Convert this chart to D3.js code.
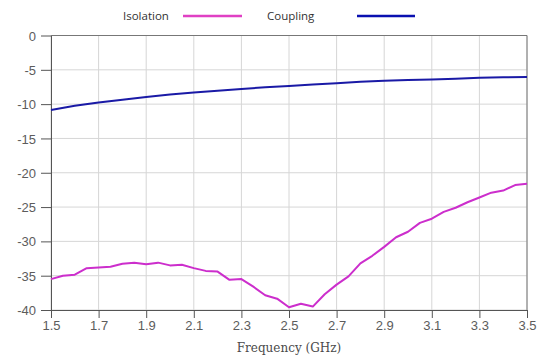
<!DOCTYPE html>
<html>
<head>
<meta charset="utf-8">
<script src="https://cdn.jsdelivr.net/npm/d3@7"></script>
<style>
  html, body { margin: 0; padding: 0; background: #fff; }
  svg { display: block; }
</style>
</head>
<body>
<svg id="chart" width="547" height="358"></svg>
<script>
// ---- data ----
const isoFreq = [1.5,1.55,1.6,1.65,1.7,1.75,1.8,1.85,1.9,1.95,2.0,2.05,2.1,2.15,2.2,2.25,2.3,2.35,2.4,2.45,2.5,2.55,2.6,2.65,2.7,2.75,2.8,2.85,2.9,2.95,3.0,3.05,3.1,3.15,3.2,3.25,3.3,3.35,3.4,3.45,3.5];
const isolation = [-35.5,-35.0,-34.85,-33.9,-33.8,-33.7,-33.25,-33.1,-33.35,-33.1,-33.5,-33.4,-33.9,-34.3,-34.4,-35.6,-35.5,-36.6,-37.85,-38.35,-39.6,-39.1,-39.5,-37.7,-36.3,-35.1,-33.2,-32.1,-30.8,-29.4,-28.6,-27.3,-26.7,-25.7,-25.1,-24.3,-23.6,-22.9,-22.6,-21.8,-21.6];
const coupFreq = [1.5,1.6,1.7,1.8,1.9,2.0,2.1,2.2,2.3,2.4,2.5,2.6,2.7,2.8,2.9,3.0,3.1,3.2,3.3,3.4,3.5];
const coupling = [-10.85,-10.25,-9.75,-9.35,-8.95,-8.6,-8.3,-8.05,-7.8,-7.55,-7.35,-7.15,-6.95,-6.75,-6.6,-6.5,-6.4,-6.3,-6.15,-6.1,-6.05];
const xTicks = [1.5,1.7,1.9,2.1,2.3,2.5,2.7,2.9,3.1,3.3,3.5];
const yTicks = [0,-5,-10,-15,-20,-25,-30,-35,-40];
const seriesNames = ["Isolation","Coupling"];
const xTitle = "Frequency (GHz)";

// ---- layout ----
const svg = d3.select("#chart");
const m = {left: 51, right: 20, top: 35.5, bottom: 48};
const W = 547, H = 358;
const x = d3.scaleLinear().domain([1.5, 3.5]).range([m.left, W - m.right]);
const y = d3.scaleLinear().domain([-40, 0]).range([H - m.bottom, m.top]);

const tickFont = "'Liberation Sans', Arial, sans-serif";

// grid
const g = svg.append("g");
g.selectAll(".vg").data(xTicks).enter().append("line")
  .attr("x1", d => x(d)).attr("x2", d => x(d))
  .attr("y1", y(0)).attr("y2", y(-40))
  .attr("stroke", "#d6d6d6").attr("stroke-width", 1);
g.selectAll(".hg").data(yTicks).enter().append("line")
  .attr("x1", x(1.5)).attr("x2", x(3.5))
  .attr("y1", d => y(d)).attr("y2", d => y(d))
  .attr("stroke", "#d6d6d6").attr("stroke-width", 1);

// frame top/right
svg.append("line").attr("x1", x(1.5)).attr("x2", x(3.5)).attr("y1", y(0)).attr("y2", y(0))
  .attr("stroke", "#777").attr("stroke-width", 1);
svg.append("line").attr("x1", x(3.5)).attr("x2", x(3.5)).attr("y1", y(0)).attr("y2", y(-40))
  .attr("stroke", "#777").attr("stroke-width", 1);

// axes
const xAxis = svg.append("g").attr("transform", `translate(0,${y(-40)})`)
  .call(d3.axisBottom(x).tickValues(xTicks).tickFormat(d3.format(".1f")).tickSizeInner(8).tickSizeOuter(0).tickPadding(3));
const yAxis = svg.append("g").attr("transform", `translate(${x(1.5)},0)`)
  .call(d3.axisLeft(y).tickValues(yTicks).tickFormat(d => String(d)).tickSizeInner(10).tickSizeOuter(0).tickPadding(5));
[xAxis, yAxis].forEach(a => {
  a.select(".domain").attr("stroke", "#555");
  a.selectAll(".tick line").attr("stroke", "#555");
  a.selectAll(".tick text").attr("fill", "#5c5c5c").style("font-family", tickFont).style("font-size", "13px");
});
yAxis.selectAll(".tick text").attr("dy", "0.35em");

// axis title
svg.append("text").attr("x", x(2.5)).attr("y", 352)
  .attr("text-anchor", "middle").attr("fill", "#4a4a4a")
  .style("font-family", "'DejaVu Serif', 'Liberation Serif', serif").style("font-size", "12px")
  .text(xTitle);

// lines
const line = d3.line().x(d => x(d[0])).y(d => y(d[1]));
svg.append("path").datum(isoFreq.map((f, i) => [f, isolation[i]]))
  .attr("d", line).attr("fill", "none").attr("stroke", "#cc2ecc").attr("stroke-width", 2)
  .attr("stroke-linejoin", "round");
svg.append("path").datum(coupFreq.map((f, i) => [f, coupling[i]]))
  .attr("d", line).attr("fill", "none").attr("stroke", "#1a1aa6").attr("stroke-width", 2)
  .attr("stroke-linejoin", "round");

// legend
const legFont = "'Open Sans', 'Noto Sans', sans-serif";
const legend = [
  {name: seriesNames[0], tx: 123, lx1: 183, lx2: 242, color: "#e040c4"},
  {name: seriesNames[1], tx: 267, lx1: 357, lx2: 415, color: "#0a10b0"}
];
legend.forEach(l => {
  svg.append("text").attr("x", l.tx).attr("y", 20).attr("fill", "#333")
    .style("font-family", legFont).style("font-size", "11.5px").text(l.name);
  svg.append("line").attr("x1", l.lx1).attr("x2", l.lx2).attr("y1", 16).attr("y2", 16)
    .attr("stroke", l.color).attr("stroke-width", 2.5);
});
</script>
</body>
</html>
